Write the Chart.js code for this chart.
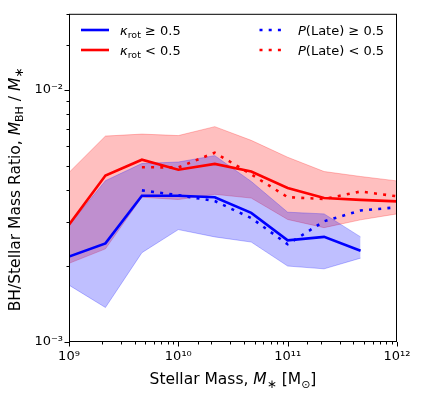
<!DOCTYPE html>
<html><head><meta charset="utf-8">
<script src="https://cdn.jsdelivr.net/npm/chart.js@4.4.0/dist/chart.umd.min.js"></script>
<style>html,body{margin:0;padding:0;background:#fff}#wrap{width:436px;height:397px;position:relative}</style>
</head><body><div id="wrap"><canvas id="c" width="436" height="397"></canvas></div>
<script>
// Stellar mass bin centres (Msun)
const stellarMass = [1e9, 2.154e9, 4.642e9, 1e10, 2.154e10, 4.642e10, 1e11, 2.154e11, 4.642e11, 1e12];

// kappa_rot >= 0.5 (blue solid) median and band
const kappaHighMedian = [2.18e-3, 2.46e-3, 3.80e-3, 3.80e-3, 3.75e-3, 3.25e-3, 2.53e-3, 2.61e-3, 2.30e-3, null];
const kappaHighUpper  = [2.90e-3, 4.36e-3, 5.10e-3, 5.17e-3, 5.48e-3, 4.33e-3, 3.27e-3, 3.22e-3, 2.61e-3, null];
const kappaHighLower  = [1.68e-3, 1.37e-3, 2.26e-3, 2.79e-3, 2.61e-3, 2.49e-3, 2.00e-3, 1.95e-3, 2.15e-3, null];

// kappa_rot < 0.5 (red solid) median and band
const kappaLowMedian = [2.92e-3, 4.57e-3, 5.28e-3, 4.82e-3, 5.08e-3, 4.74e-3, 4.08e-3, 3.72e-3, 3.66e-3, 3.61e-3];
const kappaLowUpper  = [4.70e-3, 6.55e-3, 6.67e-3, 6.58e-3, 7.14e-3, 6.30e-3, 5.40e-3, 4.74e-3, 4.53e-3, 4.35e-3];
const kappaLowLower  = [2.05e-3, 2.34e-3, 3.75e-3, 3.67e-3, 3.85e-3, 3.72e-3, 3.06e-3, 2.84e-3, 3.05e-3, 3.22e-3];

// P(Late) dotted medians
const pLateHighMedian = [null, null, 3.99e-3, 3.82e-3, 3.62e-3, 3.10e-3, 2.44e-3, 3.01e-3, 3.32e-3, 3.42e-3];
const pLateLowMedian  = [null, null, 4.93e-3, 4.92e-3, 5.63e-3, 4.62e-3, 3.75e-3, 3.69e-3, 3.95e-3, 3.78e-3];

// Axis ranges
const xRange = [1e9, 1e12];
const yRange = [1e-3, 2e-2];

const FONT = '"DejaVu Sans", sans-serif';
const BLUE = '#0000ff', RED = '#ff0000';
const BLUE_FILL = 'rgba(0,0,255,0.25)', RED_FILL = 'rgba(255,0,0,0.25)';

function pts(arr){ return stellarMass.map((m,i)=>({x:m, y:arr[i]})); }
function fnt(s,i){ return (i?'italic ':'') + s + 'px ' + FONT; }
function richWidth(ctx, parts){ let w=0; for(const p of parts){ ctx.font=fnt(p.s,p.i); w+=ctx.measureText(p.t).width; } return w; }
function drawRich(ctx, parts, x, y){ let cx=x; for(const p of parts){ ctx.font=fnt(p.s,p.i); ctx.fillText(p.t, cx, y+(p.dy||0)); cx+=ctx.measureText(p.t).width; } }
const SUP = {'0':'⁰','1':'¹','2':'²','3':'³','4':'⁴','5':'⁵','6':'⁶','7':'⁷','8':'⁸','9':'⁹','-':'⁻'};
function isPow10(v){ const l=Math.log10(v); return Math.abs(l-Math.round(l))<1e-9; }
function powLabel(v){ if(!isPow10(v)) return ''; return '10' + String(Math.round(Math.log10(v))).split('').map(c=>SUP[c]).join(''); }

const decor = {
  id:'decor',
  afterDraw(chart){
    const ctx = chart.ctx, a = chart.chartArea;
    const xs = chart.scales.x, ys = chart.scales.y;
    ctx.save();
    ctx.strokeStyle = '#000'; ctx.lineWidth = 1;
    // ticks
    ctx.beginPath();
    xs.ticks.forEach(t=>{
      const px = Math.round(xs.getPixelForValue(t.value)) + 0.5;
      const len = isPow10(t.value) ? 4.5 : 2.5;
      ctx.moveTo(px, a.bottom); ctx.lineTo(px, a.bottom + len);
    });
    ys.ticks.forEach(t=>{
      const py = Math.round(ys.getPixelForValue(t.value)) + 0.5;
      const len = isPow10(t.value) ? 4.5 : 2.5;
      ctx.moveTo(a.left, py); ctx.lineTo(a.left - len, py);
    });
    ctx.stroke();
    // frame
    ctx.strokeRect(a.left + 0.5, a.top + 0.5, a.right - a.left - 1, a.bottom - a.top - 1);

    ctx.fillStyle = '#000';
    ctx.textBaseline = 'alphabetic';
    // x title
    const xt = [
      {t:'Stellar Mass, ', s:15.5}, {t:'M', s:15.5, i:true}, {t:'∗', s:12, dy:3.5},
      {t:' [M', s:15.5}, {t:'⊙', s:11, dy:3.5}, {t:']', s:15.5}
    ];
    const xw = richWidth(ctx, xt);
    drawRich(ctx, xt, (a.left + a.right)/2 - xw/2, 384);
    // y title
    const yt = [
      {t:'BH/Stellar Mass Ratio, ', s:15.5}, {t:'M', s:15.5, i:true}, {t:'BH', s:11, dy:3.5},
      {t:' / ', s:15.5}, {t:'M', s:15.5, i:true}, {t:'∗', s:12, dy:3.5}
    ];
    const yw = richWidth(ctx, yt);
    ctx.save();
    ctx.translate(19.5, 189.5);
    ctx.rotate(-Math.PI/2);
    drawRich(ctx, yt, -yw/2, 0);
    ctx.restore();

    // legend
    const rows = [
      {x0:81, x1:109, y:30, color:BLUE, dash:[], parts:[{t:'κ', s:13, i:true},{t:'rot', s:9.5, dy:3},{t:' ≥ 0.5', s:13}]},
      {x0:81, x1:109, y:50, color:RED, dash:[], parts:[{t:'κ', s:13, i:true},{t:'rot', s:9.5, dy:3},{t:' < 0.5', s:13}]},
      {x0:259.5, x1:287, y:30, color:BLUE, dash:[3,6.2], parts:[{t:'P', s:13, i:true},{t:'(Late) ≥ 0.5', s:13}]},
      {x0:259.5, x1:287, y:50, color:RED, dash:[3,6.2], parts:[{t:'P', s:13, i:true},{t:'(Late) < 0.5', s:13}]}
    ];
    rows.forEach(r=>{
      ctx.beginPath();
      ctx.strokeStyle = r.color; ctx.lineWidth = 2.6; ctx.lineCap='butt';
      ctx.setLineDash(r.dash);
      ctx.moveTo(r.x0, r.y); ctx.lineTo(r.x1, r.y); ctx.stroke();
      ctx.setLineDash([]);
      ctx.fillStyle = '#000';
      drawRich(ctx, r.parts, r.x1 + 11, r.y + 4.5);
    });
    ctx.restore();
  }
};

const lineDs = (label, data, color, dash, order) => ({
  label, data: pts(data), borderColor: color, backgroundColor: color,
  borderWidth: 2.6, borderDash: dash, borderCapStyle:'butt', pointRadius: 0,
  fill: false, tension: 0, order
});
const bandDs = (label, data, fillColor, fill, order) => ({
  label, data: pts(data), borderColor: fillColor, backgroundColor: fillColor,
  borderWidth: 1, pointRadius: 0, fill, tension: 0, order
});

new Chart(document.getElementById('c'), {
  type: 'line',
  data: {
    datasets: [
      lineDs('κrot ≥ 0.5', kappaHighMedian, BLUE, [], 0),
      lineDs('κrot < 0.5', kappaLowMedian, RED, [], 0),
      lineDs('P(Late) ≥ 0.5', pLateHighMedian, BLUE, [3,6.2], 1),
      lineDs('P(Late) < 0.5', pLateLowMedian, RED, [3,6.2], 1),
      bandDs('κrot ≥ 0.5 upper', kappaHighUpper, BLUE_FILL, '+1', 2),
      bandDs('κrot ≥ 0.5 lower', kappaHighLower, BLUE_FILL, false, 2),
      bandDs('κrot < 0.5 upper', kappaLowUpper, RED_FILL, '+1', 3),
      bandDs('κrot < 0.5 lower', kappaLowLower, RED_FILL, false, 3)
    ]
  },
  options: {
    responsive: false,
    animation: false,
    devicePixelRatio: 1,
    parsing: true,
    layout: { padding: { left: 0, right: 39, top: 12, bottom: 0 } },
    plugins: { legend: { display: false }, tooltip: { enabled: false }, filler: { propagate: false } },
    scales: {
      x: {
        type: 'logarithmic', min: xRange[0], max: xRange[1],
        grid: { display: false, drawTicks: false }, border: { display: false },
        ticks: { autoSkip: false, maxRotation: 0, minRotation: 0, padding: 7, color: '#000',
                 font: { family: FONT, size: 13 }, callback: v => powLabel(v) },
        afterFit: s => { s.height = 55; }
      },
      y: {
        type: 'logarithmic', min: yRange[0], max: yRange[1],
        grid: { display: false, drawTicks: false }, border: { display: false },
        ticks: { autoSkip: false, padding: 6, color: '#000',
                 font: { family: FONT, size: 13 }, callback: v => powLabel(v) },
        afterFit: s => { s.width = 69; }
      }
    }
  },
  plugins: [decor]
});
</script>
</body></html>
